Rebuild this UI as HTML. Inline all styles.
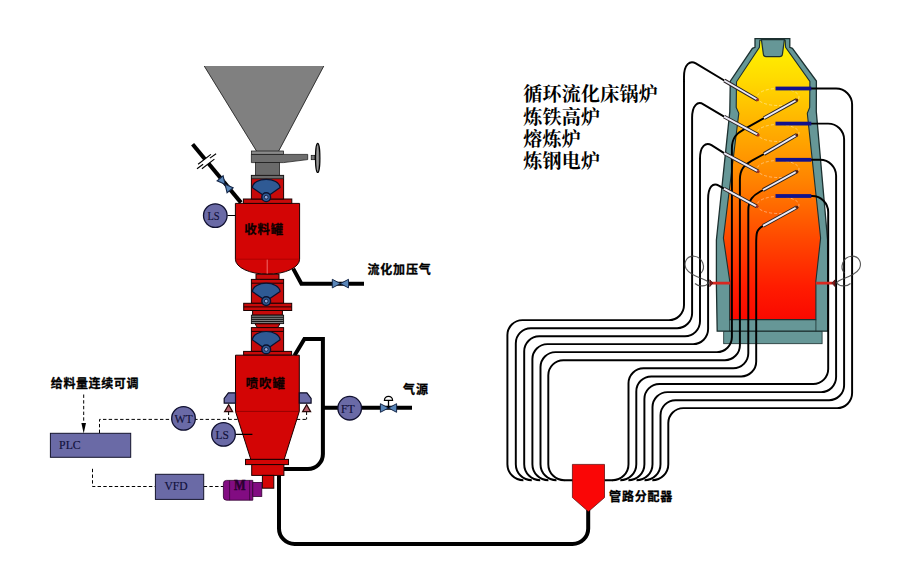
<!DOCTYPE html>
<html lang="zh-CN">
<head>
<meta charset="utf-8">
<title>喷吹系统流程图</title>
<style>
html,body{margin:0;padding:0;background:#fff;}
body{width:907px;height:572px;overflow:hidden;}
svg{display:block;}
</style>
</head>
<body>
<svg width="907" height="572" viewBox="0 0 907 572">
<defs>
<linearGradient id="fire" gradientUnits="userSpaceOnUse" x1="0" y1="44" x2="0" y2="320">
<stop offset="0" stop-color="#fff200"/>
<stop offset="0.12" stop-color="#ffdc00"/>
<stop offset="0.3" stop-color="#ffb000"/>
<stop offset="0.5" stop-color="#ff8200"/>
<stop offset="0.7" stop-color="#ff4a00"/>
<stop offset="0.88" stop-color="#ff1c00"/>
<stop offset="1" stop-color="#fa0800"/>
</linearGradient>
</defs>
<rect width="907" height="572" fill="#fff"/>
<g id="furnace">
<rect x="723.7" y="331.2" width="98.4" height="12.5" fill="#669797" stroke="#1c3030" stroke-width="0.8"/>
<polygon points="755,38.6 789.8,38.6 789.8,47.3 792.4,48.3 816.4,81 816.3,111.6 827.6,240 827.8,331.2 717.2,331.2 716.4,285 716.4,240 729.8,111.6 730.3,81.2 752.4,48.3 755,47.3" fill="#669797" stroke="#1c3030" stroke-width="1.3"/>
<path d="M729.6,319.6 V331.2 M815.9,319.6 V331.2" stroke="#1c3030" stroke-width="0.8"/>
<polygon points="759.8,40.2 785.2,40.2 785.6,47.3 809.9,81.4 809.7,107.4 807.3,113.3 820.6,238 815.9,281 815.9,319.6 729.7,319.6 729.7,281 723.4,238 738.8,113.3 736.2,107.4 736.5,81.8 759.4,47.3" fill="url(#fire)" stroke="#1c3030" stroke-width="1.1"/>
<path d="M761.4,39.6 H784.4 L782.4,54.4 Q782,56.6 779.8,56.6 H766 Q763.8,56.6 763.4,54.4 Z" fill="#669797" stroke="#1c3030" stroke-width="1.2"/>
<g fill="none" stroke="#fff" stroke-opacity="0.5" stroke-width="0.8" stroke-dasharray="3 2">
<ellipse cx="778" cy="97" rx="21" ry="8.5"/>
<ellipse cx="778" cy="133" rx="21" ry="8.5"/>
<ellipse cx="778" cy="169" rx="21" ry="8.5"/>
<ellipse cx="778" cy="205" rx="21" ry="8.5"/>
</g>
<g fill="none" stroke="#000" stroke-width="1.95">
<path d="M724.3,80.5 L695.8,63.4 C690.0,59.9 684,64.4 684,76.9 V305.1 A15,15 0 0 1 669,320.1 H522.4 A15,15 0 0 0 507.4,335.1 V464.2 A16,16 0 0 0 523.4,480.2"/>
<path d="M724.1,116.6 L703.4,104.3 C697.6,100.8 692.1,105.3 692.1,117.8 V313.2 A15,15 0 0 1 677.1,328.2 H530.8 A15,15 0 0 0 515.8,343.2 V464.2 A16,16 0 0 0 531.8,480.2"/>
<path d="M724.1,153.1 L711.5,145.2 C705.8,141.6 700,146.1 700,158.6 V321.3 A15,15 0 0 1 685,336.3 H539.2 A15,15 0 0 0 524.2,351.3 V464.2 A16,16 0 0 0 540.2,480.2"/>
<path d="M723.9,188.6 L718.8,185.7 C713.0,182.2 708.1,186.7 708.1,199.2 V329.1 A15,15 0 0 1 693.1,344.1 H547.4 A15,15 0 0 0 532.4,359.1 V464.2 A16,16 0 0 0 548.4,480.2"/>
<path d="M764,118.2 L743.9,129.4 C736.9,133.3 731.9,137.4 731.9,148.4 V337.1 A15,15 0 0 1 716.9,352.1 H555.5 A15,15 0 0 0 540.5,367.1 V464.2 A16,16 0 0 0 556.5,480.2"/>
<path d="M764,154 L751.9,160.7 C744.9,164.6 739.9,168.7 739.9,179.7 V345.2 A15,15 0 0 1 724.9,360.2 H563.3 A15,15 0 0 0 548.3,375.2 V464.2 A16,16 0 0 0 564.3,480.2"/>
<path d="M763,190 L760.3,191.5 C753.3,195.4 748.3,199.5 748.3,210.5 V353.3 A15,15 0 0 1 733.3,368.3 H643.5 A15,15 0 0 0 628.5,383.3 V464.2 A16,16 0 0 1 612.5,480.2"/>
<path d="M763,225.8 L763.0,225.8 C756.0,229.7 756.2,233.8 756.2,244.8 V361.4 A15,15 0 0 1 741.2,376.4 H651.3 A15,15 0 0 0 636.3,391.4 V464.2 A16,16 0 0 1 620.3,480.2"/>
<path d="M811,88.5 H836.1 A16,16 0 0 1 852.1,104.5 V393.1 A15,15 0 0 1 837.1,408.1 H683.3 A15,15 0 0 0 668.3,423.1 V464.2 A16,16 0 0 1 652.3,480.2"/>
<path d="M811,123.6 H828.1 A16,16 0 0 1 844.1,139.6 V385.2 A15,15 0 0 1 829.1,400.2 H675.5 A15,15 0 0 0 660.5,415.2 V464.2 A16,16 0 0 1 644.5,480.2"/>
<path d="M811,159.8 H820.1 A16,16 0 0 1 836.1,175.8 V377.1 A15,15 0 0 1 821.1,392.1 H667.5 A15,15 0 0 0 652.5,407.1 V464.2 A16,16 0 0 1 636.5,480.2"/>
<path d="M811,196 H812.2 A16,16 0 0 1 828.2,212 V369 A15,15 0 0 1 813.2,384 H659.4 A15,15 0 0 0 644.4,399 V464.2 A16,16 0 0 1 628.4,480.2"/>
<path d="M564,480.2 H572.7 M604.6,480.2 H613"/>
</g>
<line x1="724.3" y1="80.5" x2="757.5" y2="99.8" stroke="#2c2424" stroke-width="3.8" stroke-linecap="butt"/><line x1="724.3" y1="80.5" x2="757.5" y2="99.8" stroke="#ecebf8" stroke-width="1.9" stroke-linecap="butt"/>
<circle cx="757.5" cy="99.8" r="1.5" fill="#a03020"/>
<line x1="724.1" y1="116.6" x2="758.1" y2="134.9" stroke="#2c2424" stroke-width="3.8" stroke-linecap="butt"/><line x1="724.1" y1="116.6" x2="758.1" y2="134.9" stroke="#ecebf8" stroke-width="1.9" stroke-linecap="butt"/>
<circle cx="758.1" cy="134.9" r="1.5" fill="#a03020"/>
<line x1="724.1" y1="153.1" x2="758.1" y2="171.4" stroke="#2c2424" stroke-width="3.8" stroke-linecap="butt"/><line x1="724.1" y1="153.1" x2="758.1" y2="171.4" stroke="#ecebf8" stroke-width="1.9" stroke-linecap="butt"/>
<circle cx="758.1" cy="171.4" r="1.5" fill="#a03020"/>
<line x1="723.9" y1="188.6" x2="757.1" y2="206.6" stroke="#2c2424" stroke-width="3.8" stroke-linecap="butt"/><line x1="723.9" y1="188.6" x2="757.1" y2="206.6" stroke="#ecebf8" stroke-width="1.9" stroke-linecap="butt"/>
<circle cx="757.1" cy="206.6" r="1.5" fill="#a03020"/>
<line x1="764" y1="118.2" x2="796.8" y2="100" stroke="#2c2424" stroke-width="3.8" stroke-linecap="butt"/><line x1="764" y1="118.2" x2="796.8" y2="100" stroke="#ecebf8" stroke-width="1.9" stroke-linecap="butt"/>
<circle cx="796.8" cy="100" r="1.5" fill="#5a2010"/>
<line x1="764" y1="154" x2="796.8" y2="134.9" stroke="#2c2424" stroke-width="3.8" stroke-linecap="butt"/><line x1="764" y1="154" x2="796.8" y2="134.9" stroke="#ecebf8" stroke-width="1.9" stroke-linecap="butt"/>
<circle cx="796.8" cy="134.9" r="1.5" fill="#5a2010"/>
<line x1="763" y1="190" x2="797" y2="171.4" stroke="#2c2424" stroke-width="3.8" stroke-linecap="butt"/><line x1="763" y1="190" x2="797" y2="171.4" stroke="#ecebf8" stroke-width="1.9" stroke-linecap="butt"/>
<circle cx="797" cy="171.4" r="1.5" fill="#5a2010"/>
<line x1="763" y1="225.8" x2="797" y2="207.2" stroke="#2c2424" stroke-width="3.8" stroke-linecap="butt"/><line x1="763" y1="225.8" x2="797" y2="207.2" stroke="#ecebf8" stroke-width="1.9" stroke-linecap="butt"/>
<circle cx="797" cy="207.2" r="1.5" fill="#5a2010"/>
<rect x="775.5" y="86.6" width="35.8" height="3.8" fill="#12128c"/>
<rect x="775.5" y="121.69999999999999" width="35.8" height="3.8" fill="#12128c"/>
<rect x="775.5" y="157.9" width="35.8" height="3.8" fill="#12128c"/>
<rect x="775.5" y="194.1" width="35.8" height="3.8" fill="#12128c"/>
<path d="M711.5,283.1 H730 M815.8,283.1 H832.5" stroke="#d82820" stroke-width="2.8" fill="none"/>
<path d="M709.8,279.8 L712.8,283.1 L709.8,286.6 Z M835,279.8 L831.8,283.1 L835,286.6 Z" fill="#8a1a1a" stroke="#401010" stroke-width="0.8" stroke-linejoin="round"/>
<g fill="none" stroke="#3c3c3c" stroke-width="1.15" stroke-opacity="0.85">
<path d="M701,273 C706,268 703,257 694,256.2 C686,256 683.5,263 686,268.5 C689,274 697,277 704,279.5 C707,280.6 708,281.5 709,282.8 C706,286.5 699,287 695,283.5"/>
<path d="M844.5,273 C839.5,268 842.5,257 851.5,256.2 C859.5,256 862,263 859.5,268.5 C856.5,274 848.5,277 841.5,279.5 C838.5,280.6 837.5,281.5 836.5,282.8 C839.5,286.5 846.5,287 850.5,283.5"/>
</g>
</g>
<g id="feeder">
<g fill="none" stroke="#000" stroke-width="4" stroke-linejoin="miter">
<path d="M192.6,144.2 L241,202.6" stroke-width="4"/>
<path d="M293.2,268.6 L301.4,283.7 H364"/>
<path d="M294.5,355.5 L304.4,339 H322.9 V454 A15,15 0 0 1 307.9,469 H284"/>
<path d="M322,407.8 H412"/>
<path d="M279,474 V528.4 A15.6,15.6 0 0 0 294.6,544 H572.6 A15.6,15.6 0 0 0 588.2,528.4 V510"/>
</g>
<path d="M198.1,164.3 L210.9,154.4 L214.4,159.1 L201.9,168.8 Z" fill="#fff"/>
<path d="M198.1,164.3 L210.9,154.4 M197,168.8 L203.1,164.3 M209.9,158.1 L216.1,153.7 M201.9,168.8 L214.4,159.1" stroke="#000" stroke-width="1.15" fill="none"/>
<g transform="translate(225.1,184.3) rotate(50.4)"><path d="M-7.8,-3.9 L0,0 L-7.8,3.9 Z M7.8,-3.9 L0,0 L7.8,3.9 Z" fill="#5a86b8" stroke="#16284a" stroke-width="1.1"/></g>
<g fill="none" stroke="#000" stroke-width="1" stroke-dasharray="3.4 2.3">
<path d="M83.7,394.5 V424"/>
<path d="M99.5,433 V419.4 H306.6"/>
<path d="M228.6,411.6 V419.4 M306.6,411.6 V419.4"/>
<path d="M92.5,468.8 V486.5 H155.4 M203.7,486.5 H223.4"/>
</g>
<path d="M83.7,433.4 L81.4,423 H86 Z" fill="#000"/>
<path d="M204,66 H324 L278.8,151.2 H256.4 Z" fill="#808080"/>
<path d="M204.2,66 L256.6,151.2 M323.8,66 L278.6,151.2" fill="none" stroke="#1a1a1a" stroke-width="0.8"/>
<rect x="251.4" y="151" width="32.2" height="3.6" fill="#8a8a8a" stroke="#111" stroke-width="0.7"/>
<path d="M251.4,154.4 H307.7 V159.6 L283.6,162.6 H251.4 Z" fill="#6e6e6e" stroke="#111" stroke-width="0.7"/>
<rect x="255.4" y="162.6" width="24.2" height="13" fill="#6a6a6a" stroke="#111" stroke-width="0.7"/>
<rect x="311.2" y="155.3" width="3.6" height="4.4" fill="#777" stroke="#111" stroke-width="0.7"/>
<ellipse cx="317.7" cy="157.9" rx="2.2" ry="14.6" fill="#808080" stroke="#000" stroke-width="1.2"/>
<path d="M317.3,146 V170" stroke="#b0b0b0" stroke-width="0.6"/>
<path d="M235.4,203.4 H299.6 V259.2 A32.1,15 0 0 1 235.4,259.2 Z" fill="#d30505" stroke="#1c0000" stroke-width="1"/>
<path d="M235.4,259.2 H299.6" stroke="#a00000" stroke-width="0.7"/>
<path d="M267.2,259.6 V274" stroke="#ff9a9a" stroke-width="0.7"/>
<rect x="243.4" y="199" width="48.4" height="4.4" fill="#c70a0a" stroke="#1c0000" stroke-width="1"/>
<rect x="251.4" y="175.4" width="32.2" height="23.599999999999994" fill="#c70a0a" stroke="#1c0000" stroke-width="1"/><rect x="251.4" y="175.4" width="32.2" height="3.4" fill="#6a6a6a" stroke="#111" stroke-width="0.7"/>
<rect x="256" y="274.2" width="23" height="5.2" fill="#c70a0a" stroke="#1c0000" stroke-width="1"/>
<rect x="251.4" y="279.4" width="32.2" height="23.900000000000034" fill="#c70a0a" stroke="#1c0000" stroke-width="1"/><path d="M251.4,283.2 H283.6" stroke="#1c0000" stroke-width="1"/>
<rect x="243.7" y="303.3" width="48" height="7.2" fill="#c70a0a" stroke="#1c0000" stroke-width="1"/>
<path d="M243.7,306.9 H291.7" stroke="#1c0000" stroke-width="1"/>
<rect x="252.6" y="310.5" width="29.8" height="4.6" fill="#c70a0a" stroke="#1c0000" stroke-width="1"/>
<rect x="251.4" y="315.2" width="32.2" height="8.4" fill="#7c7c7c" stroke="#111" stroke-width="0.9"/>
<path d="M251.4,317.3 H283.6 M251.4,319.4 H283.6 M251.4,321.5 H283.6" stroke="#161616" stroke-width="1"/>
<path d="M255,323.8 H280 L277.6,327.6 H257.4 Z" fill="#c70a0a" stroke="#1c0000" stroke-width="1"/>
<rect x="251.4" y="327.6" width="32.2" height="23.799999999999955" fill="#c70a0a" stroke="#1c0000" stroke-width="1"/><path d="M251.4,331.40000000000003 H283.6" stroke="#1c0000" stroke-width="1"/>
<rect x="243.6" y="351.4" width="48" height="3.8" fill="#c70a0a" stroke="#1c0000" stroke-width="1"/>
<path d="M235.5,355.2 H299.3 V411.4 L284.2,459.4 H250.8 L235.5,411.4 Z" fill="#d30505" stroke="#1c0000" stroke-width="1"/>
<path d="M235.5,411.4 H299.3" stroke="#7a0000" stroke-width="0.7"/>
<rect x="245.5" y="459.4" width="43" height="5.2" fill="#d30505" stroke="#1c0000" stroke-width="1"/>
<rect x="251.7" y="464.6" width="32.2" height="10.8" fill="#d30505" stroke="#1c0000" stroke-width="1"/>
<rect x="262.4" y="475.4" width="11.4" height="12.8" fill="#d30505" stroke="#1c0000" stroke-width="1"/>
<path d="M266.2,197.20000000000002 L252.30,187.60 C252.80,182.60 259.20,179.30 266.2,179.30 C273.20,179.30 279.60,182.60 280.10,187.60 Z" fill="#2f5a94" stroke="#0a1230" stroke-width="1.2" stroke-linejoin="round"/><circle cx="266.2" cy="197.20000000000002" r="4.4" fill="#2f5a94" stroke="#0a1230" stroke-width="1.4"/><circle cx="266.2" cy="197.20000000000002" r="1.9" fill="#8ea6d8" stroke="#0a1230" stroke-width="0.8"/>
<path d="M266.2,301.1 L252.30,291.50 C252.80,286.50 259.20,283.20 266.2,283.20 C273.20,283.20 279.60,286.50 280.10,291.50 Z" fill="#2f5a94" stroke="#0a1230" stroke-width="1.2" stroke-linejoin="round"/><circle cx="266.2" cy="301.1" r="4.4" fill="#2f5a94" stroke="#0a1230" stroke-width="1.4"/><circle cx="266.2" cy="301.1" r="1.9" fill="#8ea6d8" stroke="#0a1230" stroke-width="0.8"/>
<path d="M266.2,349.40000000000003 L252.30,339.80 C252.80,334.80 259.20,331.50 266.2,331.50 C273.20,331.50 279.60,334.80 280.10,339.80 Z" fill="#2f5a94" stroke="#0a1230" stroke-width="1.2" stroke-linejoin="round"/><circle cx="266.2" cy="349.40000000000003" r="4.4" fill="#2f5a94" stroke="#0a1230" stroke-width="1.4"/><circle cx="266.2" cy="349.40000000000003" r="1.9" fill="#8ea6d8" stroke="#0a1230" stroke-width="0.8"/>
<path d="M224.2,403.2 V398.4 L228.4,392.8 H235.5 V403.2 Z" fill="#6a6aa6" stroke="#0c0c24" stroke-width="1.2"/>
<path d="M311.1,403.2 V398.4 L306.9,392.8 H299.3 V403.2 Z" fill="#6a6aa6" stroke="#0c0c24" stroke-width="1.2"/>
<path d="M228.6,404.6 L232.6,411.6 H224.6 Z M306.6,404.6 L310.6,411.6 H302.6 Z" fill="#b8606c" stroke="#2a0808" stroke-width="1.2" stroke-linejoin="miter"/>
<path d="M226.5,480.4 H252.8 V500.2 H226.5 Q223.4,500.2 223.4,497 V483.6 Q223.4,480.4 226.5,480.4 Z" fill="#820c82" stroke="#300030" stroke-width="0.8"/>
<path d="M229.6,480.4 V500.2 M249.6,480.4 V500.2" stroke="#300030" stroke-width="0.7"/>
<rect x="252.8" y="482.4" width="9" height="14" fill="#820c82" stroke="#300030" stroke-width="0.8"/>
<path d="M227.4,215.5 H235.4 M235.4,434.4 H252.4" stroke="#000" stroke-width="1.2"/>
<rect x="50.4" y="433.3" width="80.3" height="24" fill="#6a6aa6" stroke="#14142c" stroke-width="1"/>
<rect x="155.4" y="474.3" width="48.3" height="25.1" fill="#6a6aa6" stroke="#14142c" stroke-width="1"/>
<circle cx="215.3" cy="215.6" r="11.8" fill="#6a6aa6" stroke="#101030" stroke-width="1.3"/>
<circle cx="183.5" cy="418.4" r="11.8" fill="#6a6aa6" stroke="#101030" stroke-width="1.3"/>
<circle cx="223.5" cy="434.4" r="11.8" fill="#6a6aa6" stroke="#101030" stroke-width="1.3"/>
<circle cx="349.7" cy="408.2" r="11.8" fill="#6a6aa6" stroke="#101030" stroke-width="1.3"/>
<path d="M332.29999999999995,279.3 L340.4,283.6 L332.29999999999995,287.90000000000003 Z M348.5,279.3 L340.4,283.6 L348.5,287.90000000000003 Z" fill="#5a86b8" stroke="#16284a" stroke-width="1"/>
<path d="M380.4,403.7 L388.5,408 L380.4,412.3 Z M396.6,403.7 L388.5,408 L396.6,412.3 Z" fill="#5a86b8" stroke="#16284a" stroke-width="1"/>
<path d="M388.5,408 V400.4" stroke="#000" stroke-width="1.3"/>
<path d="M384.4,400.4 A4.1,4.1 0 0 1 392.6,400.4 Z" fill="#fff" stroke="#000" stroke-width="1.2"/>
<path d="M572.4,464.4 H604.5 V497.6 L588.4,511.6 L572.4,497.6 Z" fill="#fa0606" stroke="#500" stroke-width="0.7"/>
</g>
<g id="labels">
<g font-family='"Liberation Sans","Noto Sans CJK SC",sans-serif' font-weight="700" font-size="12" letter-spacing="0.8" fill="#000" stroke="#000" stroke-width="0.3" stroke-linejoin="round">
<text x="50.8" y="387.8" letter-spacing="0.6">给料量连续可调</text>
<text x="367.5" y="274">流化加压气</text>
<text x="403.1" y="394.2">气源</text>
<text x="609.1" y="501">管路分配器</text>
<text x="244.2" y="234" fill="#0c0000" stroke="#0c0000" font-size="12.4" letter-spacing="0.9">收料罐</text>
<text x="245.8" y="387.6" fill="#0c0000" stroke="#0c0000" font-size="12.4" letter-spacing="0.9">喷吹罐</text>
</g>
<g font-family='"Liberation Serif","Noto Serif CJK SC",serif' font-weight="700" font-size="19" letter-spacing="0.25" fill="#000">
<text x="523.3" y="101.4">循环流化床锅炉</text>
<text x="523.3" y="123.6">炼铁高炉</text>
<text x="523.3" y="145.8">熔炼炉</text>
<text x="523.3" y="168.0">炼钢电炉</text>
</g>
<g font-family='"Liberation Serif","Noto Serif CJK SC",serif' font-size="13.2" fill="#10103a" stroke="#10103a" stroke-width="0.15">
<text x="207.4" y="219.9" textLength="12.2" lengthAdjust="spacingAndGlyphs">LS</text>
<text x="174.5" y="422.8" textLength="18.2" lengthAdjust="spacingAndGlyphs">WT</text>
<text x="215.4" y="438.9" textLength="13.4" lengthAdjust="spacingAndGlyphs">LS</text>
<text x="341.1" y="412.5" textLength="13.6" lengthAdjust="spacingAndGlyphs">FT</text>
<text x="59.1" y="448.5" textLength="21.6" lengthAdjust="spacingAndGlyphs" font-size="12">PLC</text>
<text x="164.4" y="489.8" textLength="23.2" lengthAdjust="spacingAndGlyphs" font-size="12">VFD</text>
<text x="234" y="490.4" textLength="11.6" lengthAdjust="spacingAndGlyphs" font-size="13.6" font-weight="700" fill="#2a0030" stroke="#2a0030" stroke-width="0.4">M</text>
</g>
</g>
</svg>
</body>
</html>
